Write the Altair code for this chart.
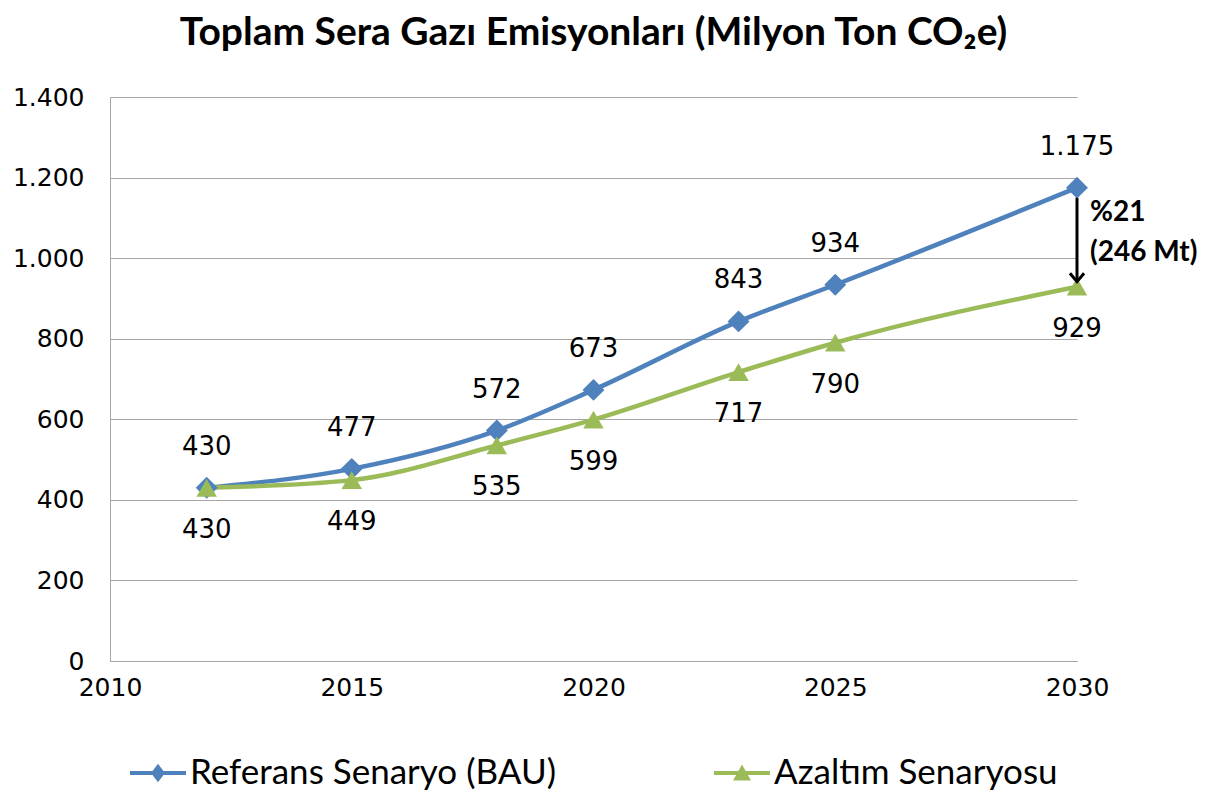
import altair as alt
import pandas as pd

years = [2012, 2015, 2018, 2020, 2023, 2025, 2030]
bau = [430, 477, 572, 673, 843, 934, 1175]
azaltim = [430, 449, 535, 599, 717, 790, 929]
series_names = ["Referans Senaryo (BAU)", "Azaltım Senaryosu"]
colors = ["#4f81bd", "#9bbb59"]
y_ticks = [0, 200, 400, 600, 800, 1000, 1200, 1400]
x_ticks = [2010, 2015, 2020, 2025, 2030]
arrow_from = [1150]
arrow_to = [945]
annot_lines = ["%21", "(246 Mt)"]
annot_values = [1112, 1013]

rows = []
for yr, v in zip(years, bau):
    rows.append({"year": yr, "value": v, "series": series_names[0], "pos": "above"})
for yr, v in zip(years, azaltim):
    rows.append({"year": yr, "value": v, "series": series_names[1], "pos": "below"})
df = pd.DataFrame(rows)

xs = alt.Scale(domain=[2010, 2030], nice=False, zero=False)
ys = alt.Scale(domain=[0, 1400], nice=False)
cs = alt.Scale(domain=series_names, range=colors)

legend_paths = [
    "M-1,-0.07 L1,-0.07 L1,0.07 L-1,0.07 Z M0,-0.33 L0.25,0 L0,0.33 L-0.25,0 Z",
    "M-1,-0.07 L1,-0.07 L1,0.07 L-1,0.07 Z M0,-0.3 L0.32,0.27 L-0.32,0.27 Z",
]
leg = alt.Legend(orient="none", direction="horizontal", legendX=20, legendY=648,
                 symbolSize=3136, symbolOpacity=1, symbolStrokeWidth=0,
                 labelFont="Lato", labelFontSize=35, labelColor="#000", labelLimit=0,
                 columnPadding=158, labelOffset=4, symbolLimit=0, title=None)

x_enc = alt.X("year:Q", scale=xs, axis=alt.Axis(values=x_ticks, format="d", title=None, grid=False,
                                                  ticks=False, labelPadding=14, domainColor="#a6a6a6",
                                                  labelFont="DejaVu Sans", labelFontSize=25, labelColor="#000"))
y_enc = alt.Y("value:Q", scale=ys, axis=alt.Axis(values=y_ticks, title=None, ticks=False, labelPadding=26,
                                                   labelExpr="replace(format(datum.value, ','), ',', '.')",
                                                   gridColor="#a6a6a6", domainColor="#a6a6a6",
                                                   labelFont="DejaVu Sans", labelFontSize=25, labelColor="#000"))

base = alt.Chart(df)

lines = base.mark_line(strokeWidth=4.5, interpolate="monotone").encode(
    x=x_enc, y=y_enc,
    color=alt.Color("series:N", scale=cs, legend=leg),
    detail="series:N",
)

pts_bau = base.transform_filter(alt.datum.series == series_names[0]).mark_point(
    filled=True, opacity=1, shape="diamond", size=480, color=colors[0]
).encode(x="year:Q", y="value:Q")

pts_az = base.transform_filter(alt.datum.series == series_names[1]).mark_point(
    filled=True, opacity=1, shape="triangle-up", size=420, color=colors[1]
).encode(x="year:Q", y="value:Q")

lab_above = base.transform_filter(alt.datum.pos == "above").transform_calculate(
    lbl="replace(format(datum.value, ','), ',', '.')"
).mark_text(dy=-41, font="DejaVu Sans", fontSize=26, color="#000").encode(
    x="year:Q", y="value:Q", text="lbl:N")

lab_below = base.transform_filter(alt.datum.pos == "below").transform_calculate(
    lbl="replace(format(datum.value, ','), ',', '.')"
).mark_text(dy=42, font="DejaVu Sans", fontSize=26, color="#000").encode(
    x="year:Q", y="value:Q", text="lbl:N")

legend_layer = base.transform_filter("false").mark_point(filled=True, opacity=1).encode(
    x="year:Q", y="value:Q",
    color=alt.Color("series:N", scale=cs, legend=leg),
    shape=alt.Shape("series:N", scale=alt.Scale(domain=series_names, range=legend_paths), legend=leg),
)

arrow_df = pd.DataFrame({"year": [2030], "y1": arrow_from, "y2": arrow_to})
arrow_rule = alt.Chart(arrow_df).mark_rule(strokeWidth=3, color="#000").encode(
    x="year:Q", y="y1:Q", y2="y2:Q")
arrow_head = alt.Chart(arrow_df).mark_point(
    shape="M-1,-1 L0,0.2 L1,-1", filled=False, strokeWidth=3, size=200, color="#000", opacity=1
).encode(x="year:Q", y="y2:Q")

annot_df = pd.DataFrame({"year": [2030, 2030], "value": annot_values, "txt": annot_lines})
annot = alt.Chart(annot_df).mark_text(align="left", dx=13, font="Lato", fontWeight="bold",
                                      fontSize=28, color="#000").encode(
    x="year:Q", y="value:Q", text="txt:N")

chart = alt.layer(lines, pts_bau, pts_az, lab_above, lab_below, legend_layer, arrow_rule, arrow_head, annot).properties(
    width=967, height=564,
    title=alt.Title("Toplam Sera Gazı Emisyonları (Milyon Ton CO₂e)", font="Lato", fontSize=39,
                    fontWeight="bold", color="#000", anchor="middle", offset=32),
    autosize=alt.AutoSizeParams(type="none"),
    padding={"left": 102, "top": 89, "right": 128, "bottom": 134},
).configure_view(stroke=None).configure_axis(labelFlush=False)

chart.save("out.html", embed_options={"renderer": "svg", "actions": False})
